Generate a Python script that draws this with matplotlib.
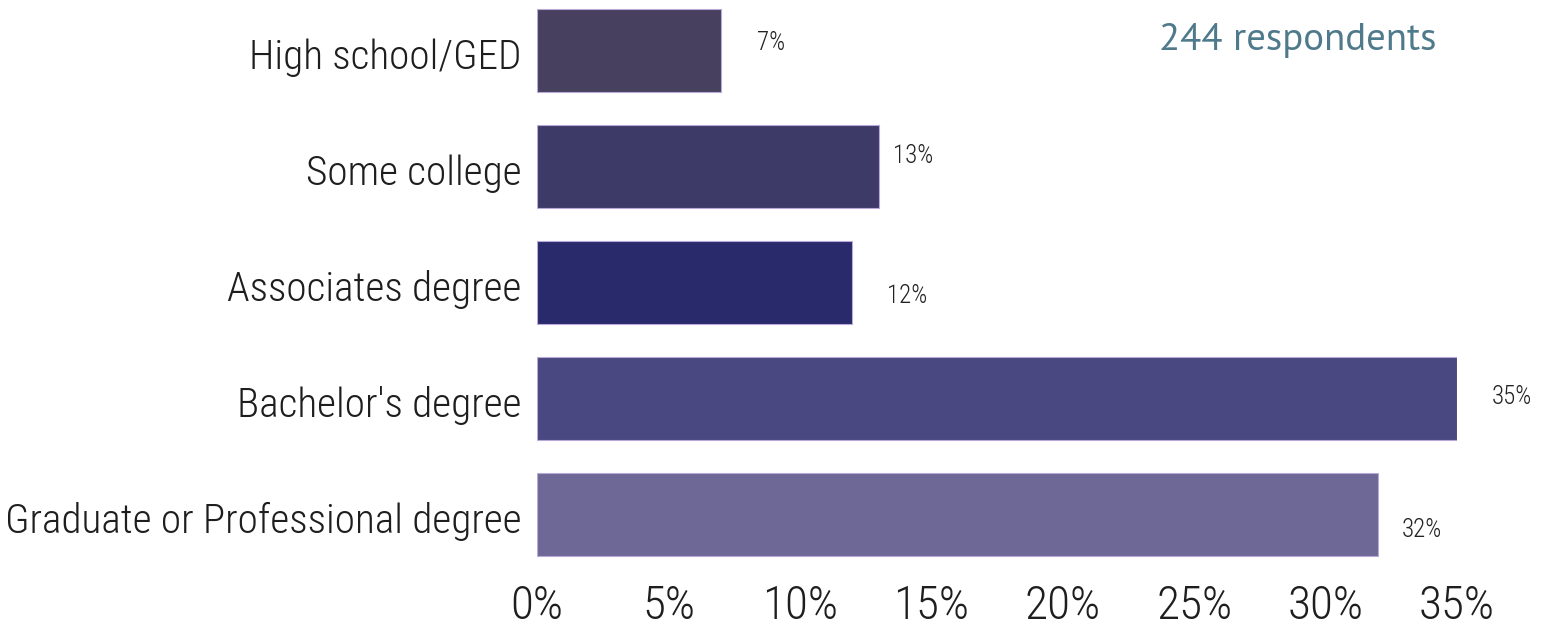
import matplotlib.pyplot as plt
from matplotlib.transforms import ScaledTranslation

categories = ['High school/GED', 'Some college', 'Associates degree',
              "Bachelor's degree", 'Graduate or Professional degree']
shares = [7, 13, 12, 35, 32]
bar_colors = ['#47405f', '#3e3a68', '#282a6c', '#4a4880', '#6e6897']
xticks = [0, 5, 10, 15, 20, 25, 30, 35]

# label nudges in pixels (dx, dy) so the percentages sit like the original layout
label_nudge = [(50, 8), (34, 11), (55, -13), (55, 1), (44, -16)]

narrow = ['Roboto Condensed', 'Liberation Sans Narrow', 'Archivo Narrow', 'DejaVu Sans']
plain = ['PT Sans', 'Lato', 'DejaVu Sans']

fig = plt.figure(figsize=(15.46, 6.27), dpi=100)
ax = fig.add_axes([537 / 1546, (627 - 563.2) / 627, 920 / 1546, 561.4 / 627])

ypos = list(range(len(categories)))
ax.barh(ypos, shares, height=0.716, color=bar_colors,
        edgecolor='#b9a9d6', linewidth=0.8)

for y, v, (dx, dy) in zip(ypos, shares, label_nudge):
    ax.annotate(f'{v}%', xy=(v, y), xytext=(dx * 0.72, dy * 0.72),
                textcoords='offset points', ha='center', va='center',
                fontsize=18, family=narrow, weight='light', color='#222222',
                annotation_clip=False)

ax.set_xlim(0, 35)
ax.set_ylim(4.42, -0.42)
ax.set_yticks(ypos)
ax.set_yticklabels(categories, family=narrow, weight='light', fontsize=29.7, color='#1e1e1e')
ax.set_xticks(xticks)
ax.set_xticklabels([f'{t}%' for t in xticks], family=narrow, weight='light',
                   fontsize=34, color='#1e1e1e')
ax.tick_params(axis='both', length=0)
ax.tick_params(axis='y', pad=11)
ax.tick_params(axis='x', pad=15)
for s in ax.spines.values():
    s.set_visible(False)

# drop the category names a touch so they sit level with the bar middles
shift = ScaledTranslation(0, -3 / 100, fig.dpi_scale_trans)
for lbl in ax.get_yticklabels():
    lbl.set_transform(lbl.get_transform() + shift)

fig.text(1298 / 1546, 1 - 40 / 627, '244 respondents', ha='center', va='center',
         fontsize=28, family=plain, weight='normal', color='#4f7a8c')

fig.savefig('out.png', dpi=100)
